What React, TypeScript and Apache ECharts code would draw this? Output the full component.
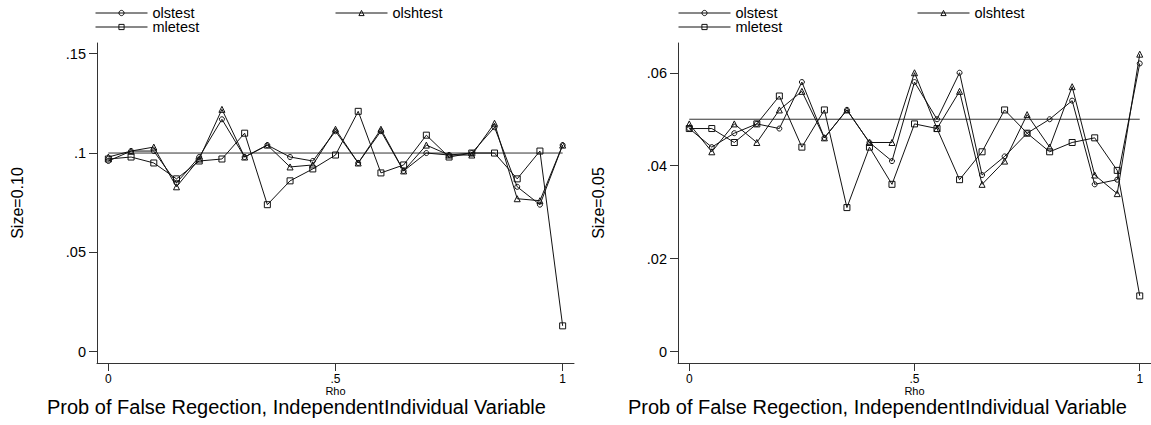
import React, { useEffect, useRef } from "react";
import * as echarts from "echarts";

// Rho grid shared by both panels
const RHO = [0, 0.05, 0.1, 0.15, 0.2, 0.25, 0.3, 0.35, 0.4, 0.45, 0.5, 0.55, 0.6, 0.65, 0.7, 0.75, 0.8, 0.85, 0.9, 0.95, 1];

// Rejection rates, nominal size 0.10
const OLS_10 = [0.096, 0.101, 0.101, 0.085, 0.098, 0.117, 0.098, 0.104, 0.098, 0.096, 0.111, 0.095, 0.111, 0.091, 0.100, 0.099, 0.100, 0.113, 0.083, 0.074, 0.104];
const OLSH_10 = [0.098, 0.101, 0.103, 0.083, 0.097, 0.122, 0.098, 0.104, 0.093, 0.094, 0.112, 0.095, 0.112, 0.091, 0.104, 0.099, 0.099, 0.115, 0.077, 0.076, 0.104];
const MLE_10 = [0.097, 0.098, 0.095, 0.087, 0.096, 0.097, 0.110, 0.074, 0.086, 0.092, 0.099, 0.121, 0.090, 0.094, 0.109, 0.098, 0.100, 0.100, 0.087, 0.101, 0.013];

// Rejection rates, nominal size 0.05
const OLS_05 = [0.048, 0.044, 0.047, 0.049, 0.048, 0.058, 0.046, 0.052, 0.045, 0.041, 0.058, 0.050, 0.060, 0.038, 0.042, 0.047, 0.050, 0.054, 0.036, 0.037, 0.062];
const OLSH_05 = [0.049, 0.043, 0.049, 0.045, 0.052, 0.056, 0.046, 0.052, 0.045, 0.045, 0.060, 0.048, 0.056, 0.036, 0.041, 0.051, 0.044, 0.057, 0.038, 0.034, 0.064];
const MLE_05 = [0.048, 0.048, 0.045, 0.049, 0.055, 0.044, 0.052, 0.031, 0.044, 0.036, 0.049, 0.048, 0.037, 0.043, 0.052, 0.047, 0.043, 0.045, 0.046, 0.039, 0.012];

// Nominal size reference levels
const NOMINAL_10 = 0.1;
const NOMINAL_05 = 0.05;

// Tick values
const X_TICKS = [0, 0.5, 1];
const Y_TICKS_10 = [0, 0.05, 0.1, 0.15];
const Y_TICKS_05 = [0, 0.02, 0.04, 0.06];

// Texts
const SERIES_NAMES = ["olstest", "olshtest", "mletest"];
const Y_TITLES = ["Size=0.10", "Size=0.05"];
const X_TITLE = "Rho";
const PANEL_TITLE = "Prob of False Regection, IndependentIndividual Variable";

const FONT = "'Liberation Sans', Arial, Helvetica, sans-serif";
const INK = "#111";
const AXIS = "#333";

const fmt = (v: number) => (v === 0 ? "0" : String(+v.toFixed(4)).replace(/^0\./, "."));

const pairs = (ys: number[]) => RHO.map((r, i) => [r, ys[i]]);

const SYMBOLS: Record<string, [string, number]> = {
  olstest: ["circle", 5],
  olshtest: ["triangle", 6],
  mletest: ["rect", 6],
};

function dataSeries(name: string, ys: number[], idx: number) {
  const [symbol, size] = SYMBOLS[name];
  return {
    type: "line",
    name,
    xAxisIndex: idx,
    yAxisIndex: idx,
    data: pairs(ys),
    symbol,
    symbolSize: size,
    showSymbol: true,
    showAllSymbol: true,
    silent: true,
    lineStyle: { color: INK, width: 1 },
    itemStyle: { color: "rgba(0,0,0,0)", borderColor: INK, borderWidth: 1 },
    emphasis: { disabled: true },
  };
}

function refSeries(level: number, idx: number) {
  return {
    type: "line",
    name: "nominal" + idx,
    xAxisIndex: idx,
    yAxisIndex: idx,
    data: [
      [RHO[0], level],
      [RHO[RHO.length - 1], level],
    ],
    symbol: "none",
    silent: true,
    lineStyle: { color: AXIS, width: 1 },
    emphasis: { disabled: true },
  };
}

function xAxis(idx: number) {
  return {
    gridIndex: idx,
    type: "value",
    min: -0.025,
    max: 1.025,
    name: X_TITLE,
    nameLocation: "middle",
    nameGap: 22.5,
    nameMoveOverlap: false,
    nameTextStyle: { fontSize: 11, lineHeight: 11, color: "#000", fontFamily: FONT },
    axisLine: { show: true, onZero: false, lineStyle: { color: AXIS, width: 1 } },
    axisTick: { show: true, length: 8, customValues: X_TICKS, lineStyle: { color: AXIS, width: 1 } },
    axisLabel: { customValues: X_TICKS, formatter: fmt, fontSize: 12, lineHeight: 12, margin: 10, hideOverlap: false, color: "#000", fontFamily: FONT },
    splitLine: { show: false },
  };
}

function yAxis(idx: number, min: number, max: number, ticks: number[], title: string) {
  return {
    gridIndex: idx,
    type: "value",
    min,
    max,
    name: title,
    nameLocation: "middle",
    nameRotate: 90,
    nameGap: 72,
    nameMoveOverlap: false,
    nameTextStyle: { fontSize: 16, color: "#000", fontFamily: FONT },
    axisLine: { show: true, onZero: false, lineStyle: { color: AXIS, width: 1 } },
    axisTick: { show: true, length: 8, customValues: ticks, lineStyle: { color: AXIS, width: 1 } },
    axisLabel: { customValues: ticks, formatter: fmt, fontSize: 14.5, margin: 11, color: "#000", fontFamily: FONT },
    splitLine: { show: false },
  };
}

function legendAt(name: string, left: number, top: number) {
  return {
    data: [name],
    left,
    top,
    padding: 0,
    orient: "horizontal",
    selectedMode: false,
    itemWidth: 52,
    itemHeight: 6.5,
    textStyle: { fontSize: 14.5, lineHeight: 12, color: "#000", fontFamily: FONT },
    itemStyle: { color: "rgba(0,0,0,0)", borderColor: INK, borderWidth: 1 },
    lineStyle: { color: INK, width: 1 },
  };
}

export default function App() {
  const ref = useRef<HTMLDivElement>(null);

  useEffect(() => {
    if (!ref.current) return;
    const chart = echarts.init(ref.current, null, { renderer: "svg" });
    const titleStyle = { fontSize: 20, lineHeight: 18, fontWeight: "normal", color: "#000", fontFamily: FONT };
    const option = {
      animation: false,
      backgroundColor: "#fff",
      textStyle: { fontFamily: FONT },
      title: [
        { text: PANEL_TITLE, left: 47, top: 398, padding: 0, textStyle: titleStyle },
        { text: PANEL_TITLE, left: 628, top: 398, padding: 0, textStyle: titleStyle },
      ],
      legend: [
        legendAt(SERIES_NAMES[0], 95, 5.5),
        legendAt(SERIES_NAMES[1], 335, 5.5),
        legendAt(SERIES_NAMES[2], 95, 19.5),
        legendAt(SERIES_NAMES[0], 678, 5.5),
        legendAt(SERIES_NAMES[1], 917, 5.5),
        legendAt(SERIES_NAMES[2], 678, 19.5),
      ],
      grid: [
        { left: 97, top: 43, width: 477, height: 320, containLabel: false },
        { left: 678, top: 43, width: 477, height: 320, containLabel: false },
      ],
      xAxis: [xAxis(0), xAxis(1)],
      yAxis: [
        yAxis(0, -0.0057, 0.1554, Y_TICKS_10, Y_TITLES[0]),
        yAxis(1, -0.00243, 0.0664, Y_TICKS_05, Y_TITLES[1]),
      ],
      series: [
        refSeries(NOMINAL_10, 0),
        dataSeries(SERIES_NAMES[0], OLS_10, 0),
        dataSeries(SERIES_NAMES[1], OLSH_10, 0),
        dataSeries(SERIES_NAMES[2], MLE_10, 0),
        refSeries(NOMINAL_05, 1),
        dataSeries(SERIES_NAMES[0], OLS_05, 1),
        dataSeries(SERIES_NAMES[1], OLSH_05, 1),
        dataSeries(SERIES_NAMES[2], MLE_05, 1),
      ],
    };
    chart.setOption(option as any);
    return () => chart.dispose();
  }, []);

  return (
    <div
      ref={ref}
      style={{ position: "absolute", left: 0, top: 0, width: 1151, height: 425, background: "#fff" }}
    />
  );
}
